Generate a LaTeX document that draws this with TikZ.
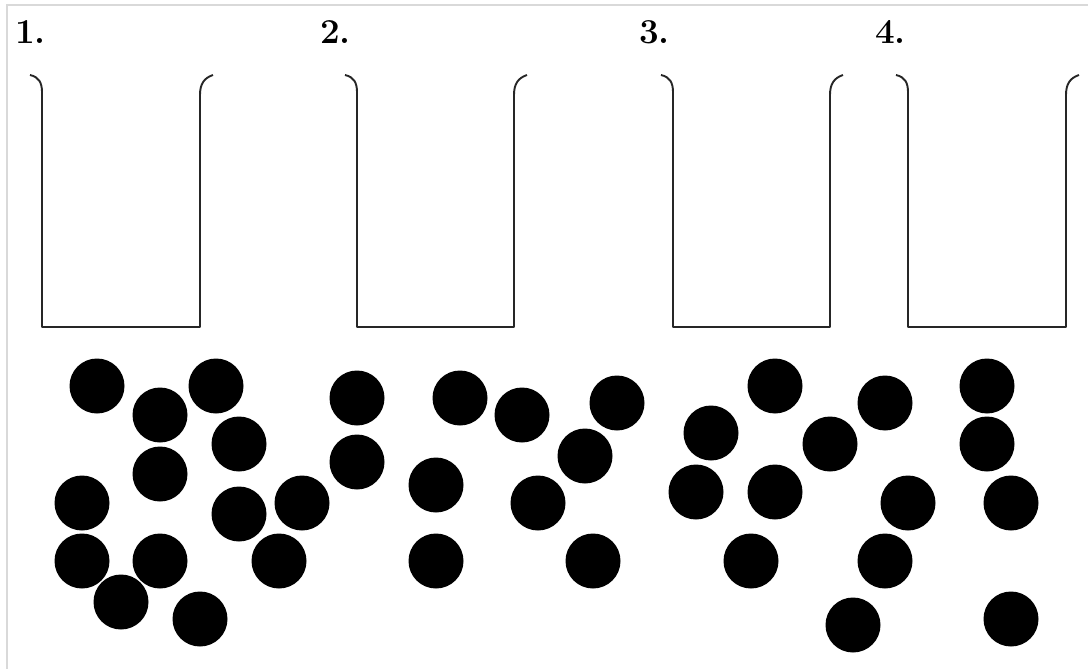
\documentclass[tikz,border=0pt]{standalone}
\begin{document}
\begin{tikzpicture}[x=1pt,y=-1pt,
  ball/.style={circle,fill=black,inner sep=0pt,minimum size=55pt},
  lbl/.style={anchor=base west,inner sep=0pt,font=\fontsize{35}{40}\selectfont\bfseries},
  cupline/.style={line width=1.9pt,color=black!85,line join=round}]
\useasboundingbox (0,0) rectangle (1088,669);
\draw[black!15,line width=2pt] (7,669) -- (7,5) -- (1088,5);
% labels
\node[lbl] (l1) at (15,44) {1.};
\node[lbl] (l2) at (320,44) {2.};
\node[lbl] (l3) at (639,44) {3.};
\node[lbl] (l4) at (875,44) {4.};
% cups
\foreach \xl/\xr in {42/200, 357/514, 673/830, 908/1066}{
  \draw[cupline] (\xl-12,75) .. controls (\xl-3,77) and (\xl,83) .. (\xl,92)
    -- (\xl,327) -- (\xr,327) -- (\xr,95)
    .. controls (\xr,84) and (\xr+4,78) .. (\xr+13,75);
}
% balls group 1
\node[ball] (a1) at (97,386) {};
\node[ball] (a2) at (160,415) {};
\node[ball] (a3) at (216,386) {};
\node[ball] (a4) at (239,444) {};
\node[ball] (a5) at (160,474) {};
\node[ball] (a6) at (82,503) {};
\node[ball] (a7) at (239,514) {};
\node[ball] (a8) at (302,503) {};
\node[ball] (a9) at (82,561) {};
\node[ball] (a10) at (160,561) {};
\node[ball] (a11) at (279,561) {};
\node[ball] (a12) at (121,602) {};
\node[ball] (a13) at (200,619) {};
% group 2
\node[ball] (b1) at (357,398) {};
\node[ball] (b2) at (357,462) {};
\node[ball] (b3) at (460,398) {};
\node[ball] (b4) at (522,415) {};
\node[ball] (b5) at (617,403) {};
\node[ball] (b6) at (585,456) {};
\node[ball] (b7) at (436,485) {};
\node[ball] (b8) at (538,503) {};
\node[ball] (b9) at (436,561) {};
\node[ball] (b10) at (593,561) {};
% group 3
\node[ball] (c1) at (775,386) {};
\node[ball] (c2) at (711,433) {};
\node[ball] (c3) at (696,492) {};
\node[ball] (c4) at (775,492) {};
\node[ball] (c5) at (830,444) {};
\node[ball] (c6) at (885,403) {};
\node[ball] (c7) at (908,503) {};
\node[ball] (c8) at (751,561) {};
\node[ball] (c9) at (885,561) {};
\node[ball] (c10) at (853,625) {};
% group 4
\node[ball] (d1) at (987,386) {};
\node[ball] (d2) at (987,444) {};
\node[ball] (d3) at (1011,503) {};
\node[ball] (d4) at (1011,619) {};
\end{tikzpicture}
\end{document}
